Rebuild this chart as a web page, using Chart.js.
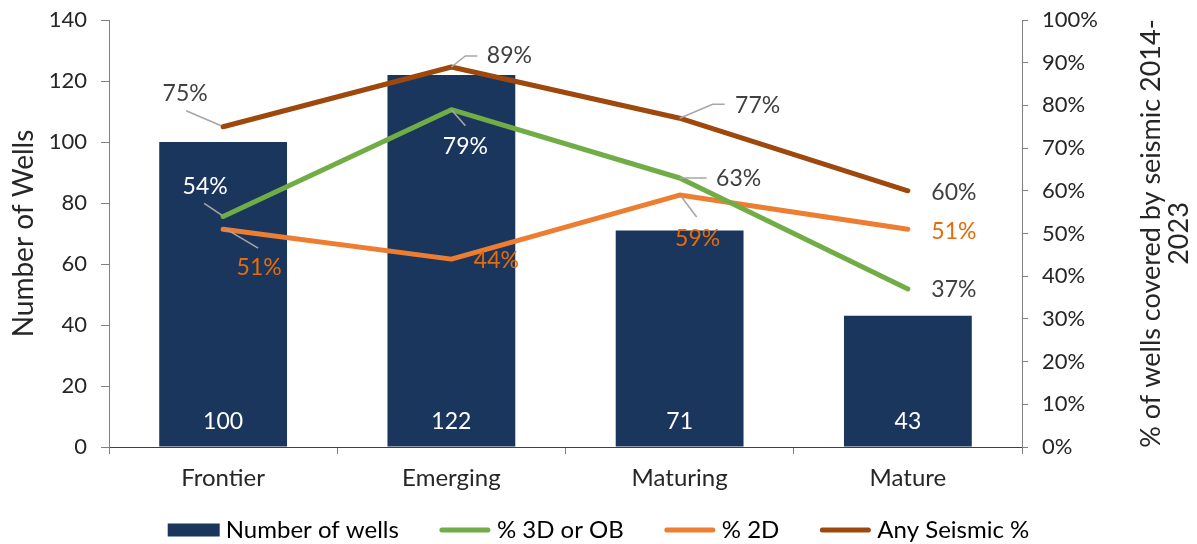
<!DOCTYPE html>
<html>
<head>
<meta charset="utf-8">
<script src="https://cdn.jsdelivr.net/npm/chart.js@4/dist/chart.umd.min.js"></script>
<style>
  html, body { margin: 0; padding: 0; background: #fff; }
  #wrap { width: 1197px; height: 544px; }
</style>
</head>
<body>
<div id="wrap"><canvas id="chart" width="1197" height="544"></canvas></div>
<script>
const categories = ['Frontier', 'Emerging', 'Maturing', 'Mature'];
const wells = [100, 122, 71, 43];
const pct3D = [54, 79, 63, 37];
const pct2D = [51, 44, 59, 51];
const pctAny = [75, 89, 77, 60];
const rightTitle = ['% of wells covered by seismic 2014-', '2023'];

const FONT = 'Lato, "Open Sans", sans-serif';
const NAVY = '#1B365D';
const GREEN = '#70AD47';
const ORANGE = '#ED7D31';
const BROWN = '#9E480E';
const GREY_TEXT = '#404040';

// where each line label sits, relative to its point (px), plus leader lines
const labelSpots = {
  any: [
    { dx: -38, dy: -33, lead: [[-37, -16], [-2, -1]] },
    { dx: 58, dy: -11, lead: [[0, 0], [14, -11], [26, -11]] },
    { dx: 78, dy: -13, lead: [[0, 0], [33, -14], [45, -14]] },
    { dx: 46, dy: 2 }
  ],
  d3: [
    { dx: -18, dy: -30, lead: [[-19, -13], [-1, -1]], color: '#fff' },
    { dx: 14, dy: 37, lead: [[0, 0], [14, 16]], color: '#fff' },
    { dx: 59, dy: 1, lead: [[0, 0], [27, 0]] },
    { dx: 46, dy: 1 }
  ],
  d2: [
    { dx: 36, dy: 38, lead: [[3, 0], [35, 19]] },
    { dx: 45, dy: 1 },
    { dx: 18, dy: 44, lead: [[2, 2], [17, 22]] },
    { dx: 46, dy: 2 }
  ]
};

const labelPlugin = {
  id: 'labels',
  afterDatasetsDraw(chart) {
    const ctx = chart.ctx;
    ctx.save();
    ctx.font = '23px ' + FONT;
    ctx.textAlign = 'center';
    ctx.textBaseline = 'middle';
    chart.data.datasets.forEach((ds, i) => {
      const meta = chart.getDatasetMeta(i);
      meta.data.forEach((el, j) => {
        if (ds.type === 'bar') {
          ctx.fillStyle = '#fff';
          ctx.fillText(String(ds.data[j]), el.x, el.base - 25);
          return;
        }
        const spot = labelSpots[ds.key][j];
        if (spot.lead) {
          ctx.strokeStyle = '#A6A6A6';
          ctx.lineWidth = 1.5;
          ctx.beginPath();
          spot.lead.forEach((p, k) => {
            if (k === 0) ctx.moveTo(el.x + p[0], el.y + p[1]);
            else ctx.lineTo(el.x + p[0], el.y + p[1]);
          });
          ctx.stroke();
        }
        ctx.fillStyle = spot.color || ds.labelColor;
        ctx.fillText(ds.data[j] + '%', el.x + spot.dx, el.y + spot.dy);
      });
    });

    // right axis title, reading bottom to top
    const y1 = chart.scales.y1;
    const cy = (y1.top + y1.bottom) / 2;
    ctx.font = '27px ' + FONT;
    ctx.fillStyle = '#262626';
    ctx.translate(1151, cy);
    ctx.rotate(-Math.PI / 2);
    ctx.fillText(rightTitle[0], 0, 0);
    ctx.fillText(rightTitle[1], 0, 28);
    ctx.restore();
  }
};

const legendPlugin = {
  id: 'bottomLegend',
  afterDraw(chart) {
    const ctx = chart.ctx;
    ctx.save();
    ctx.font = '24px ' + FONT;
    ctx.textBaseline = 'middle';
    ctx.textAlign = 'left';
    const items = chart.data.datasets.map(ds => ({
      text: ds.label,
      w: 52 + 6 + ctx.measureText(ds.label).width,
      ds
    }));
    const gap = 40;
    const total = items.reduce((s, it) => s + it.w, 0) + gap * (items.length - 1);
    let x = (chart.width - total) / 2;
    const y = 530;
    items.forEach(it => {
      if (it.ds.type === 'bar') {
        ctx.fillStyle = it.ds.backgroundColor;
        ctx.fillRect(x, y - 6.5, 52, 13);
      } else {
        ctx.strokeStyle = it.ds.borderColor;
        ctx.lineWidth = 5;
        ctx.lineCap = 'round';
        ctx.beginPath();
        ctx.moveTo(x + 3, y);
        ctx.lineTo(x + 49, y);
        ctx.stroke();
      }
      ctx.fillStyle = '#000';
      ctx.fillText(it.text, x + 58, y);
      x += it.w + gap;
    });
    ctx.restore();
  }
};

const lineStyle = {
  type: 'line',
  yAxisID: 'y1',
  borderWidth: 5,
  borderCapStyle: 'round',
  borderJoinStyle: 'round',
  pointRadius: 0,
  tension: 0
};

new Chart(document.getElementById('chart'), {
  data: {
    labels: categories,
    datasets: [
      { type: 'bar', label: 'Number of wells', data: wells, yAxisID: 'y',
        backgroundColor: NAVY, barPercentage: 1, categoryPercentage: 0.56, order: 2 },
      Object.assign({ label: '% 3D or OB', key: 'd3', data: pct3D, borderColor: GREEN,
        labelColor: GREY_TEXT, order: 1 }, lineStyle),
      Object.assign({ label: '% 2D', key: 'd2', data: pct2D, borderColor: ORANGE,
        labelColor: '#E46C0A', order: 1 }, lineStyle),
      Object.assign({ label: 'Any Seismic %', key: 'any', data: pctAny, borderColor: BROWN,
        labelColor: GREY_TEXT, order: 0 }, lineStyle)
    ]
  },
  options: {
    responsive: false,
    animation: false,
    layout: { padding: 0 },
    plugins: { legend: { display: false }, tooltip: { enabled: false } },
    scales: {
      x: {
        grid: { display: true, drawOnChartArea: false, drawTicks: true, tickLength: 7, color: '#808080', offset: true },
        border: { display: true, color: '#404040', width: 1 },
        ticks: { color: '#262626', font: { family: FONT, size: 24 }, padding: 10 },
        afterFit: s => { s.height = 97; }
      },
      y: {
        position: 'left',
        min: 0, max: 140,
        ticks: { stepSize: 20, color: '#262626', font: { family: FONT, size: 22 }, padding: 14 },
        grid: { drawOnChartArea: false, drawTicks: true, tickLength: 8, color: '#808080' },
        border: { display: true, color: '#808080', width: 1 },
        title: { display: true, text: 'Number of Wells', color: '#262626', font: { family: FONT, size: 28 }, padding: { top: 7, bottom: 0 } },
        afterFit: s => { s.width = 109; s.paddingTop = 20; s.paddingBottom = 0; }
      },
      y1: {
        position: 'right',
        min: 0, max: 100,
        ticks: { stepSize: 10, color: '#262626', font: { family: FONT, size: 22 }, padding: 14,
          callback: v => v + '%' },
        grid: { drawOnChartArea: false, drawTicks: true, tickLength: 6, color: '#808080' },
        border: { display: true, color: '#808080', width: 1 },
        afterFit: s => { s.width = 175; s.paddingTop = 20; s.paddingBottom = 0; }
      }
    }
  },
  plugins: [labelPlugin, legendPlugin]
});
</script>
</body>
</html>
